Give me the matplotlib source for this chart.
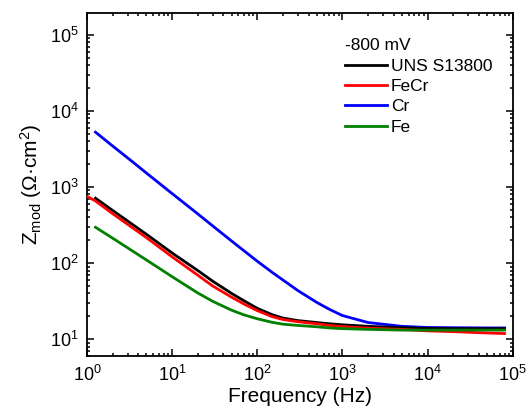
import matplotlib.pyplot as plt
import numpy as np

plt.rcParams['font.family'] = ['Liberation Sans', 'DejaVu Sans']
plt.rcParams['mathtext.fontset'] = 'custom'
plt.rcParams['mathtext.rm'] = 'Liberation Sans'
plt.rcParams['mathtext.it'] = 'Liberation Sans:italic'
plt.rcParams['mathtext.bf'] = 'Liberation Sans:bold'

# Bode modulus at -800 mV
freq = [1.26, 2, 3, 5, 10, 20, 30, 50, 70, 100, 150, 200, 300, 500, 700,
        1000, 2000, 5000, 1e4, 2e4, 5e4, 8e4]
z_uns = [713, 493, 358, 239, 136, 80, 57.9, 40, 32, 25.5, 21, 19, 17.6, 16.6, 16.0,
         15.5, 14.8, 14.2, 13.9, 13.8, 13.8, 13.8]
z_cr = [5250, 3460, 2415, 1524, 820, 444, 308, 195, 145, 106, 75.5, 60.1, 43.6, 30.5, 24.8,
        20.5, 16.6, 14.8, 14.3, 14.2, 14.1, 14.1]
z_fe = [296, 213, 159, 110, 66.4, 40.6, 31.5, 24.1, 20.9, 18.6, 16.7, 15.8, 15.2, 14.6, 14.1,
        13.8, 13.5, 13.2, 13.2, 13.2, 13.2, 13.2]

freq_fecr = [1.0] + freq
z_fecr = [755, 655, 447, 324, 216, 121, 69.5, 50.1, 35.7, 29.0, 23.8, 19.8, 18.2, 17.0, 16.0, 15.2,
          14.7, 14.0, 13.5, 12.9, 12.6, 12.1, 11.9]

fig = plt.figure(figsize=(5.27, 4.08), dpi=100)
ax = fig.add_axes([0.165, 0.127, 0.808, 0.842])

lw = 2.0
ax.plot(freq, z_uns, color='black', lw=lw, label='UNS S13800', zorder=3)
ax.plot(freq_fecr, z_fecr, color='#ff0000', lw=lw, label='FeCr', zorder=4)
ax.plot(freq, z_cr, color='#0000ff', lw=lw, label='Cr', zorder=2)
ax.plot(freq, z_fe, color='#008000', lw=lw, label='Fe', zorder=5)

ax.set_xscale('log')
ax.set_yscale('log')
ax.set_xlim(1, 1e5)
ax.set_ylim(6, 1.95e5)

ax.xaxis.set_major_locator(plt.LogLocator(base=10, numticks=10))
ax.yaxis.set_major_locator(plt.LogLocator(base=10, numticks=10))
ax.xaxis.set_minor_locator(plt.LogLocator(base=10, subs=np.arange(2, 10), numticks=20))
ax.yaxis.set_minor_locator(plt.LogLocator(base=10, subs=np.arange(2, 10), numticks=20))

ax.tick_params(which='both', direction='in', top=True, right=True, width=1.1)
ax.tick_params(which='major', length=5, labelsize=13, pad=6)
ax.tick_params(which='minor', length=2.5)
for sp in ax.spines.values():
    sp.set_linewidth(1.3)

ax.set_xlabel('Frequency (Hz)', fontsize=15, labelpad=2)
ax.set_ylabel(r'Z$_\mathrm{mod}$ (Ω·cm$^2$)', fontsize=15, labelpad=4)

leg = ax.legend(title='-800 mV', loc='upper left', bbox_to_anchor=(0.606, 0.925),
                frameon=False, fontsize=12.5, title_fontsize=12.5, alignment='left',
                handlelength=2.4, handletextpad=0.25, labelspacing=0.3,
                borderpad=0, borderaxespad=0)

fig.savefig('out.png', dpi=100)
